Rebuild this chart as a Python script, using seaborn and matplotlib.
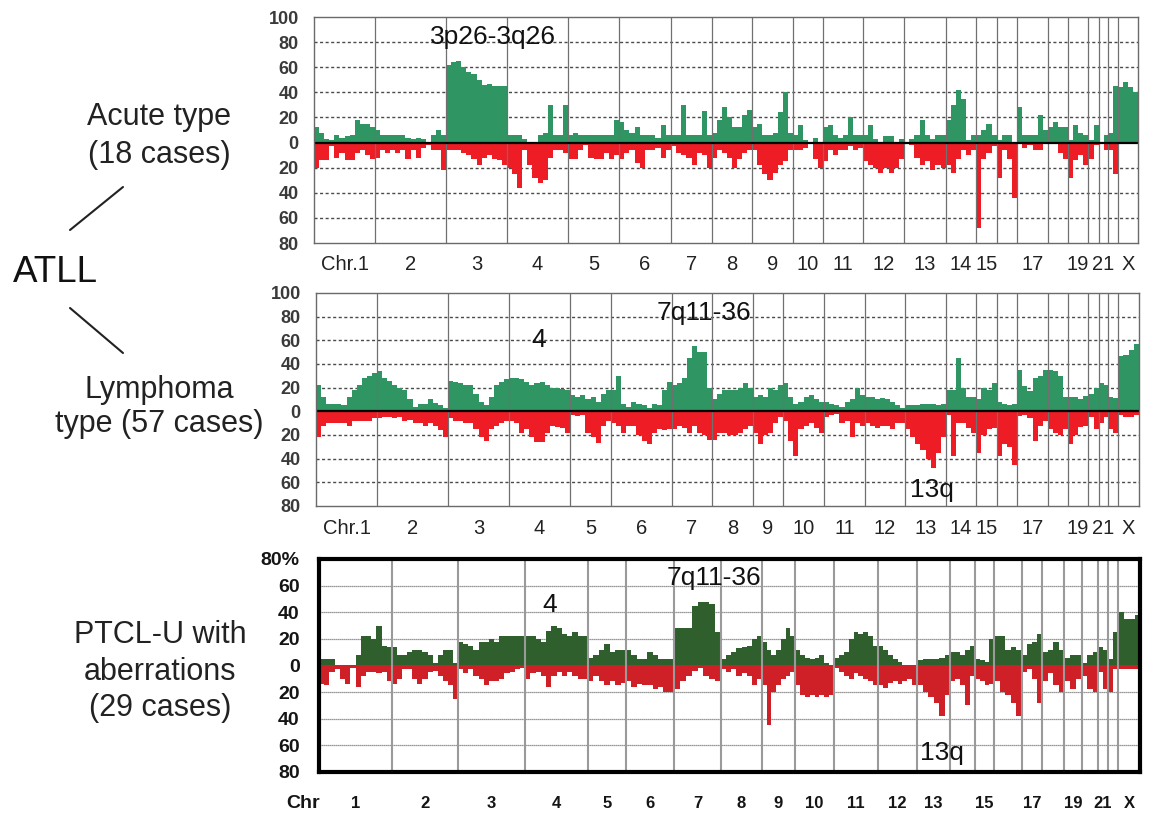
import numpy as np
import matplotlib
matplotlib.use("Agg")
import matplotlib.pyplot as plt
import seaborn as sns
from matplotlib.lines import Line2D

# =========================================================
# DATA  (frequency of gain / loss in %, per chromosome)
# =========================================================

chrom_names = ["1", "2", "3", "4", "5", "6", "7", "8", "9", "10", "11", "12",
               "13", "14", "15", "16", "17", "18", "19", "20", "21", "22", "X"]

# relative plotted length of each chromosome (one list per panel)
acute_chr_len = [61, 71, 61, 61, 51, 52, 41, 40, 41, 30, 40, 41, 42, 30, 21, 20, 31, 20, 20, 11, 9, 10, 20]
lymph_chr_len = [61, 71, 61, 61, 41, 61, 40, 41, 30, 41, 41, 40, 41, 30, 21, 20, 31, 20, 20, 11, 9, 10, 21]
ptcl_chr_len = [73, 66, 67, 63, 38, 48, 47, 41, 33, 39, 44, 39, 33, 25, 19, 28, 20, 22, 18, 16, 10, 10, 22]

# ---- ATLL acute type (18 cases)
acute_gain = [
    [12, 8, 3, 2, 6, 4, 5, 6, 18, 15, 15, 12],
    [10, 6, 6, 6, 6, 6, 4, 3, 4, 3, 0, 6, 10, 6],
    [62, 64, 65, 60, 56, 55, 50, 46, 47, 45, 45, 45],
    [6, 6, 6, 3, 0, 0, 6, 8, 30, 6, 6, 30],
    [6, 8, 6, 6, 6, 6, 6, 6, 6, 18],
    [16, 10, 8, 12, 6, 6, 6, 4, 14, 6],
    [6, 6, 30, 6, 6, 6, 25, 6],
    [8, 18, 28, 20, 12, 12, 22, 26],
    [12, 15, 6, 6, 8, 24, 40, 8],
    [6, 14, 2, 0, 4, 0],
    [12, 14, 6, 4, 6, 20, 6, 6],
    [6, 14, 3, 0, 5, 5, 0, 3],
    [0, 3, 6, 18, 6, 3, 6, 6],
    [18, 30, 42, 35, 2, 6],
    [6, 10, 15, 6],
    [2, 6, 6, 0],
    [28, 6, 6, 6, 22, 10],
    [12, 16, 12, 12],
    [2, 14, 8, 6],
    [2, 14],
    [0, 6],
    [8, 45],
    [44, 48, 44, 40],
]
acute_loss = [
    [20, 14, 14, 3, 12, 8, 14, 14, 8, 6, 10, 13],
    [12, 6, 8, 6, 8, 6, 13, 6, 12, 4, 2, 6, 6, 22],
    [6, 6, 6, 8, 10, 13, 18, 12, 10, 13, 14, 18],
    [20, 25, 36, 6, 18, 28, 32, 30, 12, 6, 6, 8],
    [13, 13, 6, 2, 12, 13, 13, 8, 13, 10],
    [13, 8, 6, 16, 20, 6, 6, 4, 12, 6],
    [3, 8, 10, 12, 18, 8, 10, 20],
    [12, 6, 8, 12, 20, 13, 8, 6],
    [6, 18, 25, 30, 24, 18, 15, 6],
    [6, 6, 4, 0, 13, 20],
    [15, 6, 10, 6, 6, 3, 6, 4],
    [15, 18, 20, 24, 20, 24, 20, 13],
    [0, 2, 12, 18, 15, 22, 18, 20],
    [18, 24, 13, 6, 10, 6],
    [68, 13, 8, 3],
    [28, 6, 13, 44],
    [0, 4, 2, 6, 6, 0],
    [0, 0, 8, 13],
    [28, 14, 10, 18],
    [13, 2],
    [0, 6],
    [6, 25],
    [0, 0, 0, 0],
]

# ---- ATLL lymphoma type (57 cases)
lymph_gain = [
    [22, 12, 6, 6, 6, 5, 12, 18, 22, 28, 30, 32],
    [34, 28, 26, 22, 20, 18, 10, 4, 6, 6, 10, 7, 5, 3],
    [26, 25, 24, 22, 22, 15, 8, 5, 12, 22, 25, 27],
    [28, 28, 27, 25, 22, 24, 25, 22, 20, 20, 19, 18],
    [14, 12, 14, 10, 12, 8, 15, 18],
    [18, 30, 6, 4, 8, 6, 5, 3, 6, 5, 18, 25],
    [22, 24, 28, 45, 55, 50, 50, 20],
    [10, 15, 18, 18, 18, 20, 24, 20],
    [12, 14, 12, 20, 18, 22],
    [24, 12, 6, 8, 12, 14, 10, 8],
    [8, 6, 5, 4, 8, 10, 20, 14],
    [12, 12, 10, 11, 10, 8, 5, 3],
    [5, 5, 5, 6, 6, 6, 5, 6],
    [18, 18, 45, 20, 12, 12],
    [10, 20, 18, 24],
    [8, 6, 5, 6],
    [35, 21, 17, 28, 30, 35],
    [35, 34, 30, 12],
    [12, 12, 10, 13],
    [15, 20],
    [24, 22],
    [12, 11],
    [47, 48, 52, 57],
]
lymph_loss = [
    [22, 12, 10, 10, 10, 10, 12, 8, 8, 8, 8, 6],
    [6, 5, 5, 6, 5, 8, 7, 10, 10, 12, 10, 12, 16, 22],
    [6, 8, 8, 10, 10, 15, 22, 25, 15, 12, 10, 8],
    [8, 10, 18, 15, 22, 26, 26, 18, 12, 13, 14, 18],
    [3, 4, 3, 18, 22, 27, 12, 8],
    [10, 12, 18, 12, 12, 20, 25, 28, 18, 15, 16, 15],
    [15, 12, 14, 18, 12, 18, 20, 24],
    [24, 18, 18, 20, 20, 18, 15, 12],
    [18, 28, 20, 18, 10, 5],
    [8, 25, 38, 15, 12, 10, 14, 18],
    [5, 3, 2, 10, 8, 22, 10, 12],
    [10, 12, 14, 12, 12, 15, 10, 10],
    [15, 22, 28, 33, 40, 48, 35, 22],
    [3, 38, 10, 10, 14, 18],
    [35, 20, 15, 14],
    [38, 28, 30, 45],
    [4, 3, 6, 25, 12, 8],
    [15, 18, 20, 15],
    [28, 20, 13, 12],
    [5, 15],
    [10, 5],
    [15, 18],
    [3, 5, 5, 3],
]

# ---- PTCL-U with aberrations (29 cases)
ptcl_gain = [
    [5, 5, 5, 0, 0, 0, 0, 8, 22, 22, 20, 30, 15, 14],
    [14, 8, 8, 10, 12, 12, 10, 8, 2, 8, 12, 12, 2],
    [18, 16, 15, 12, 18, 18, 20, 18, 22, 22, 22, 22, 22],
    [22, 22, 20, 18, 26, 30, 28, 24, 22, 25, 22, 22],
    [6, 8, 12, 16, 10, 12, 12],
    [12, 8, 5, 5, 10, 8, 5, 5, 5],
    [28, 28, 28, 45, 48, 48, 46, 25],
    [5, 8, 10, 13, 14, 15, 20, 22],
    [18, 12, 8, 12, 20, 28, 22],
    [12, 8, 6, 5, 6, 8, 2, 0],
    [6, 8, 10, 20, 25, 24, 25, 22, 15],
    [15, 12, 8, 5, 3, 0, 0, 0],
    [4, 5, 5, 5, 6, 8],
    [10, 10, 8, 12, 15],
    [5, 4, 3, 20],
    [22, 22, 12, 14, 12],
    [8, 16, 18, 24],
    [10, 12, 18, 12],
    [6, 8, 8],
    [2, 8, 10],
    [14, 12],
    [5, 25],
    [40, 35, 35, 38],
]
ptcl_loss = [
    [14, 15, 5, 3, 10, 14, 2, 16, 8, 5, 5, 6, 5, 12],
    [14, 10, 3, 3, 10, 14, 10, 5, 4, 8, 12, 15, 25],
    [3, 6, 3, 8, 10, 15, 12, 12, 10, 6, 5, 3, 2],
    [10, 6, 5, 8, 16, 8, 5, 8, 5, 8, 10, 10],
    [12, 8, 12, 15, 12, 15, 13],
    [12, 16, 14, 15, 15, 18, 16, 20, 20],
    [18, 12, 8, 4, 2, 8, 10, 12],
    [3, 5, 3, 8, 6, 8, 15, 10],
    [15, 45, 20, 15, 10, 8, 5],
    [15, 22, 24, 22, 24, 22, 24, 22],
    [2, 5, 8, 10, 6, 8, 10, 12, 15],
    [15, 17, 13, 12, 14, 12, 10, 15],
    [15, 20, 24, 28, 38, 22],
    [12, 10, 15, 30, 8],
    [10, 12, 15, 14],
    [12, 20, 22, 28, 38],
    [5, 3, 10, 28],
    [12, 6, 15, 20],
    [12, 18, 10],
    [8, 18, 20],
    [5, 18],
    [20, 3],
    [3, 3, 3, 3],
]

atll_labels = ["Chr.1", "2", "3", "4", "5", "6", "7", "8", "9", "10", "11", "12",
               "13", "14", "15", "17", "19", "21", "X"]
ptcl_labels = ["1", "2", "3", "4", "5", "6", "7", "8", "9", "10", "11", "12",
               "13", "15", "17", "19", "21", "X"]
atll_label_chroms = ["1", "2", "3", "4", "5", "6", "7", "8", "9", "10", "11", "12",
                     "13", "14", "15", "17", "19", "21", "X"]
ptcl_label_chroms = ptcl_labels

# =========================================================
# STYLE
# =========================================================

sns.set_theme(style="white")
plt.rcParams["font.family"] = ["Liberation Sans", "DejaVu Sans"]

W, H = 1151, 814
fig = plt.figure(figsize=(W / 100, H / 100), dpi=100)


def px_axes(left, top, right, bottom):
    return fig.add_axes([left / W, 1 - bottom / H, (right - left) / W, (bottom - top) / H])


def step_series(chr_len, series):
    xs, ys = [], []
    start = 0.0
    for length, vals in zip(chr_len, series):
        n = len(vals)
        xs.extend(start + length * np.arange(n) / n)
        ys.extend(vals)
        start += length
    xs.append(start)
    ys.append(ys[-1])
    return np.array(xs), np.array(ys, dtype=float)


def draw_panel(ax, chr_len, gain, loss, green, red, ymax, grid_kw, vline_kw,
               spine_kw, zero_line, tick_kw, xlabels, xlabel_chroms, xlabel_kw,
               ytick_pad, xtick_pad, top_label):
    bounds = np.cumsum(chr_len)
    starts = bounds - np.array(chr_len)
    centers = (starts + bounds) / 2

    for yv in range(-60, ymax, 20):
        if yv != 0:
            ax.axhline(yv, zorder=1, **grid_kw)

    xg, yg = step_series(chr_len, gain)
    xl, yl = step_series(chr_len, loss)
    ax.fill_between(xg, 0, yg, step="post", color=green, lw=0, zorder=2)
    ax.fill_between(xl, 0, -yl, step="post", color=red, lw=0, zorder=2)

    for b in bounds[:-1]:
        ax.axvline(b, zorder=3, **vline_kw)
    if zero_line:
        ax.axhline(0, color="black", lw=1.6, zorder=4)

    ax.set_xlim(0, bounds[-1])
    ax.set_ylim(-80, ymax)
    yt = np.arange(-80, ymax + 1, 20)
    ax.set_yticks(yt)
    ylabs = [str(abs(v)) for v in yt]
    if top_label:
        ylabs[-1] = top_label
    ax.set_yticklabels(ylabs, **tick_kw)
    idx = [chrom_names.index(c) for c in xlabel_chroms]
    ax.set_xticks(centers[idx])
    ax.set_xticklabels(xlabels, **xlabel_kw)
    ax.tick_params(axis="y", length=0, pad=ytick_pad)
    ax.tick_params(axis="x", length=0, pad=xtick_pad)
    ax.grid(False)
    for sp in ax.spines.values():
        sp.set(**spine_kw)
        sp.set_zorder(5)


atll_grid = dict(color="#4a4a4a", lw=1.0, ls=(0, (2.2, 1.8)))
atll_vline = dict(color="#707070", lw=0.9)
atll_spine = dict(color="#6a6a6a", lw=1.0, visible=True)
atll_ytick = dict(fontsize=13, fontweight="bold", color="#3a3a3a")
atll_xtick = dict(fontsize=14.5, color="#222222")

ax1 = px_axes(314, 17, 1138, 243)
draw_panel(ax1, acute_chr_len, acute_gain, acute_loss, "#2e9563", "#ee1c25", 100,
           atll_grid, atll_vline, atll_spine, True, atll_ytick,
           atll_labels, atll_label_chroms, atll_xtick, 11, 9, None)

ax2 = px_axes(316, 293, 1139, 506)
draw_panel(ax2, lymph_chr_len, lymph_gain, lymph_loss, "#2e9563", "#ee1c25", 100,
           atll_grid, atll_vline, atll_spine, True, atll_ytick,
           atll_labels, atll_label_chroms, atll_xtick, 11, 9, None)

ax3 = px_axes(319, 559, 1140, 772)
draw_panel(ax3, ptcl_chr_len, ptcl_gain, ptcl_loss, "#2f5f2c", "#cf2027", 80,
           dict(color="#777777", lw=0.9, ls=(0, (1, 0.6))),
           dict(color="#9a9a9a", lw=1.5),
           dict(color="black", lw=3.0, visible=True), False,
           dict(fontsize=14, fontweight="bold", color="#151515"),
           ptcl_labels, ptcl_label_chroms,
           dict(fontsize=12, fontweight="bold", color="#151515"), 14, 17, "80%")


def ftext(x, y, s, **kw):
    fig.text(x / W, 1 - y / H, s, ha="center", va="center", **kw)


# left-hand group labels
ftext(159, 117, "Acute type", fontsize=22, color="#222222")
ftext(159, 155, "(18 cases)", fontsize=22, color="#222222")
ftext(55, 273, "ATLL", fontsize=26.5, color="#111111")
ftext(159, 390, "Lymphoma", fontsize=22, color="#222222")
ftext(159, 424, "type (57 cases)", fontsize=22, color="#222222")
ftext(160, 635, "PTCL-U with", fontsize=22, color="#222222")
ftext(160, 672, "aberrations", fontsize=22, color="#222222")
ftext(160, 708, "(29 cases)", fontsize=22, color="#222222")

for (x0, y0, x1, y1) in [(70, 230, 123, 187), (70, 308, 123, 353)]:
    fig.add_artist(Line2D([x0 / W, x1 / W], [1 - y0 / H, 1 - y1 / H],
                          transform=fig.transFigure, color="#222222", lw=1.5))

# region annotations
ftext(493, 37, "3p26-3q26", fontsize=19, color="#111111")
ftext(539, 340, "4", fontsize=19, color="#111111")
ftext(704, 313, "7q11-36", fontsize=19, color="#111111")
ftext(932, 490, "13q", fontsize=19, color="#111111")
ftext(550, 605, "4", fontsize=19, color="#111111")
ftext(714, 578, "7q11-36", fontsize=19, color="#111111")
ftext(942, 753, "13q", fontsize=19, color="#111111")
ftext(303, 803, "Chr", fontsize=14, fontweight="bold", color="#151515")

fig.savefig("out.png", dpi=100, facecolor="white")
